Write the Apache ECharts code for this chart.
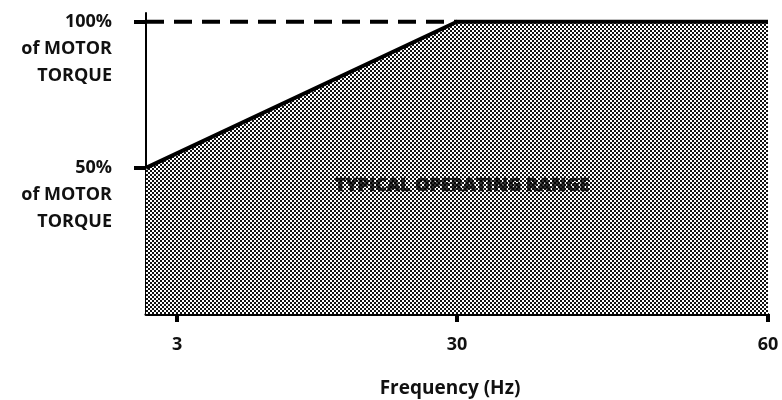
<!DOCTYPE html>
<html>
<head>
<meta charset="utf-8">
<script src="https://cdn.jsdelivr.net/npm/echarts@6/dist/echarts.min.js"></script>
<style>html,body{margin:0;padding:0;background:#fff;}#c{width:782px;height:400px;}</style>
</head>
<body>
<div id="c"></div>
<script>
// Data
const freq = [0, 30, 60];
const torque = [50, 100, 100];
const dashFreq = [0, 30];
const dashTorque = [100, 100];
const xTickValues = [3, 30, 60];
const yTickValues = [50, 100];
const yTickLabels = { 50: '50%\nof MOTOR\nTORQUE', 100: '100%\nof MOTOR\nTORQUE' };
const rangeLabel = 'TYPICAL OPERATING RANGE';
const rangeLabelPos = [30.5, 44];

// stipple pattern
const pc = document.createElement('canvas');
pc.width = 4; pc.height = 4;
const px = pc.getContext('2d');
px.fillStyle = '#ffffff'; px.fillRect(0, 0, 4, 4);
px.fillStyle = '#111111'; px.fillRect(0, 0, 2, 2); px.fillRect(2, 2, 2, 2);

const chart = echarts.init(document.getElementById('c'));
chart.setOption({
  animation: false,
  backgroundColor: '#fff',
  grid: { left: 146, right: 14, top: 13, bottom: 86, outerBoundsMode: 'none', containLabel: false },
  xAxis: {
    type: 'value', min: 0, max: 60,
    name: 'Frequency (Hz)', nameLocation: 'middle', nameGap: 65,
    nameTextStyle: { fontFamily: 'Open Sans', fontWeight: 'bold', fontSize: 19, color: '#111', padding: [0, 14, 0, 0] },
    axisLine: { show: true, lineStyle: { color: '#000', width: 3 } },
    axisTick: { show: true, customValues: xTickValues, length: 8, lineStyle: { color: '#000', width: 4 } },
    axisLabel: { customValues: xTickValues, margin: 22, fontFamily: 'Open Sans', fontWeight: 'bold', fontSize: 18, color: '#111' },
    splitLine: { show: false }
  },
  yAxis: {
    type: 'value', min: 0, max: 103,
    axisLine: { show: true, lineStyle: { color: '#000', width: 2 } },
    axisTick: { show: true, customValues: yTickValues, length: 12, lineStyle: { color: '#000', width: 4 } },
    axisLabel: {
      customValues: yTickValues, margin: 34, align: 'right', verticalAlign: 'middle',
      lineHeight: 27, fontFamily: 'Open Sans', fontWeight: 'bold', fontSize: 18, color: '#111',
      showMinLabel: true, showMaxLabel: true, hideOverlap: false,
      formatter: v => '\n\n' + yTickLabels[v]
    },
    splitLine: { show: false }
  },
  series: [
    {
      type: 'line', data: freq.map((f, i) => [f, torque[i]]),
      symbol: 'none', lineStyle: { color: '#000', width: 4 },
      areaStyle: { color: { image: pc, repeat: 'repeat' }, opacity: 1 },
      z: 2
    },
    {
      type: 'line', data: dashFreq.map((f, i) => [f, dashTorque[i]]),
      symbol: 'none', lineStyle: { color: '#000', width: 4, type: [18, 10] },
      z: 3
    },
    {
      type: 'scatter', data: [rangeLabelPos], symbolSize: 0,
      label: { show: true, position: 'inside', formatter: rangeLabel,
        fontFamily: 'Open Sans', fontWeight: 800, fontSize: 18, color: '#000',
        textBorderColor: '#000', textBorderWidth: 0.6 },
      z: 4
    }
  ]
});
</script>
</body>
</html>
